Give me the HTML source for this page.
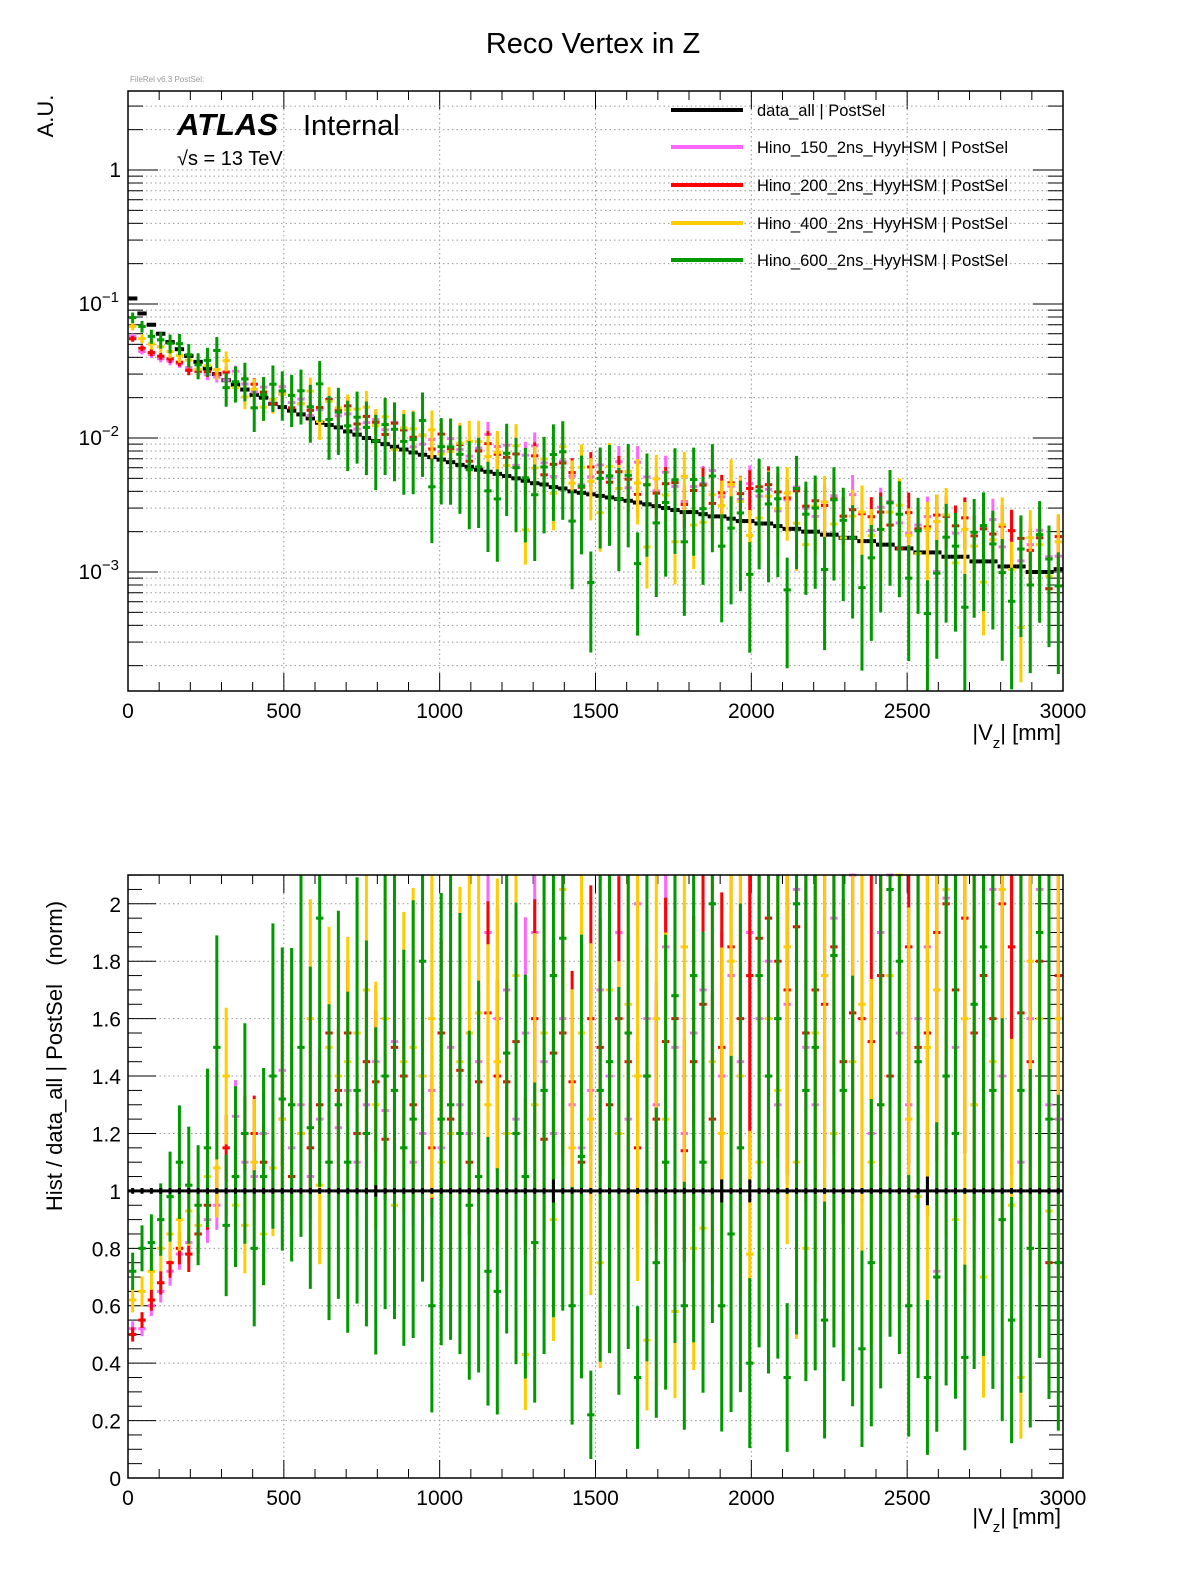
<!DOCTYPE html>
<html><head><meta charset="utf-8">
<style>
html,body{margin:0;padding:0;background:#fff;}
svg{display:block;font-family:"Liberation Sans",sans-serif;}
</style></head>
<body>
<svg id="chart" width="1196" height="1572" viewBox="0 0 1196 1572" xmlns="http://www.w3.org/2000/svg">
<rect width="1196" height="1572" fill="#fff"/>
<text x="593" y="53" font-size="29" text-anchor="middle">Reco Vertex in Z</text>
<text x="130" y="82" font-size="8" fill="#999">FileRel v6.3 PostSel:</text>
<g id="topPanel"></g>
<g id="botPanel"></g>
<text transform="translate(53,116) rotate(-90)" font-size="22" text-anchor="middle">A.U.</text>
<text x="1061" y="740" font-size="22" text-anchor="end">|V<tspan font-size="15" dy="8">z</tspan><tspan dy="-8">| [mm]</tspan></text>
<text x="1061" y="1524" font-size="22" text-anchor="end">|V<tspan font-size="15" dy="8">z</tspan><tspan dy="-8">| [mm]</tspan></text>
<text transform="translate(62,1056) rotate(-90)" font-size="22" text-anchor="middle" xml:space="preserve">Hist / data_all | PostSel   (norm)</text>
<text x="177" y="135" font-size="31" font-weight="bold" font-style="italic">ATLAS</text>
<text x="303" y="135" font-size="29">Internal</text>
<text x="177" y="165" font-size="20">√s = 13 TeV</text>
<g>
<line x1="671" y1="110" x2="743" y2="110" stroke="#000" stroke-width="4"/><text x="757" y="116" font-size="16.5">data_all | PostSel</text>
<line x1="671" y1="147" x2="743" y2="147" stroke="#ff66ff" stroke-width="4"/><text x="757" y="153" font-size="16.5">Hino_150_2ns_HyyHSM | PostSel</text>
<line x1="671" y1="185" x2="743" y2="185" stroke="#ff0000" stroke-width="4"/><text x="757" y="191" font-size="16.5">Hino_200_2ns_HyyHSM | PostSel</text>
<line x1="671" y1="223" x2="743" y2="223" stroke="#ffcc00" stroke-width="4"/><text x="757" y="229" font-size="16.5">Hino_400_2ns_HyyHSM | PostSel</text>
<line x1="671" y1="260" x2="743" y2="260" stroke="#009900" stroke-width="4"/><text x="757" y="266" font-size="16.5">Hino_600_2ns_HyyHSM | PostSel</text>
</g>
</svg>
<script>
// 100 bins of 30 mm, 0..3000
const dataVals=[0.11,0.085,0.07,0.06,0.052,0.046,0.041,0.037,0.033,0.030,
0.027,0.025,0.023,0.021,0.020,0.018,0.017,0.016,0.015,0.014,
0.013,0.0125,0.012,0.0112,0.0106,0.010,0.0095,0.009,0.0086,0.0082,
0.0078,0.0075,0.0072,0.0069,0.0066,0.0063,0.0061,0.0058,0.0056,0.0054,
0.0052,0.005,0.0048,0.0046,0.0045,0.0043,0.0042,0.0040,0.0039,0.0038,
0.0037,0.0036,0.0035,0.0034,0.0033,0.0032,0.0031,0.0030,0.0029,0.0028,
0.0028,0.0027,0.0026,0.0026,0.0025,0.0024,0.0024,0.0023,0.0023,0.0022,
0.0021,0.0021,0.0020,0.0020,0.0019,0.0019,0.0018,0.0018,0.0017,0.0017,
0.0016,0.0016,0.0015,0.0015,0.0014,0.0014,0.0014,0.0013,0.0013,0.0013,
0.0012,0.0012,0.0012,0.0011,0.0011,0.0011,0.0010,0.0010,0.0010,0.00105];
const dataErr=[1,1,1,1,1,1,1,1,1,1, 1,1,1,1,1,1,1,1,1,1, 1,1,1,1,1,1,2,1,1,1, 1,1,1,1,1,1,1,1,1,1, 1,1,1,1,1,4,1,1,1,1, 1,1,1,1,1,1,1,1,1,1, 1,1,1,4,1,1,4,1,1,1, 1,1,1,1,1,1,1,1,1,1, 1,1,1,1,1,5,1,1,1,1, 1,1,1,1,1,1,1,1,1,1];
const ratioP=[0.52,0.52,0.6,0.65,0.72,0.78,0.82,0.85,0.9,0.95, 1.0,1.26,1.1,1.05,1.2,1.0,1.42,1.15,1.3,1.05, 1.25,1.1,1.22,1.35,1.1,1.3,1.45,1.28,1.52,1.4, 1.1,1.2,1.35,1.15,1.5,1.3,1.2,1.45,1.9,1.6, 1.7,1.25,1.55,1.9,1.45,1.2,1.6,1.3,1.15,1.35, 1.7,1.4,1.9,1.25,2.0,1.6,1.3,1.85,1.5,1.2, 1.55,1.7,2.2,1.4,1.75,1.45,1.9,1.6,1.8,1.3, 1.65,2.05,1.5,1.3,1.75,1.95,1.45,2.1,1.6,1.2, 1.9,2.1,1.55,1.3,1.6,1.85,0.72,2.02,1.5,1.95, 1.3,1.75,2.05,1.4,1.85,1.1,1.6,2.05,1.3,1.25];
const ratioR=[0.5,0.55,0.62,0.68,0.75,0.8,0.78,0.85,0.95,1.0, 1.15,1.05,1.2,1.2,1.1,1.0,1.25,1.05,1.2,1.15, 1.3,1.55,1.35,1.55,1.2,1.45,1.38,1.18,1.5,1.4, 1.3,1.4,1.15,1.55,1.25,1.42,1.1,1.38,1.62,1.4, 1.38,1.52,1.05,1.6,1.18,1.48,1.55,1.38,1.1,1.6, 1.5,1.3,1.6,1.45,1.15,1.4,1.25,1.52,1.6,1.14, 1.45,1.65,1.25,1.5,1.85,1.6,1.75,1.88,1.95,1.8, 1.7,1.92,1.55,1.7,1.65,1.85,1.45,1.62,1.6,1.52, 1.75,1.4,1.0,1.85,1.5,1.55,1.9,2.0,1.7,1.95, 1.55,1.75,1.6,2.0,1.85,1.62,1.45,1.8,0.75,1.75];
const ratioY=[0.62,0.65,0.72,0.8,0.85,0.9,0.93,0.88,1.05,1.08, 1.4,0.95,0.88,1.1,0.85,1.08,1.25,1.3,1.2,1.6, 1.02,1.5,1.4,1.45,1.55,1.7,1.3,1.6,0.95,1.45, 1.5,1.4,1.6,1.1,1.2,1.45,1.55,1.62,1.3,1.45, 1.2,1.75,0.43,1.3,1.55,0.9,2.05,1.15,1.55,1.25, 0.75,1.7,1.2,1.65,1.4,0.48,1.6,1.25,0.58,1.85, 0.8,0.87,1.45,1.2,1.8,1.4,0.78,1.1,1.6,1.35, 1.85,1.1,0.8,1.55,1.75,1.2,1.0,1.45,1.65,1.1, 1.3,1.75,2.1,1.25,0.98,1.5,1.7,2.05,0.9,1.6, 1.3,0.7,1.45,2.05,0.95,0.35,1.8,1.6,0.93,1.6];
const ratioG=[0.72,0.8,0.82,0.9,0.98,1.1,1.02,0.95,1.15,1.5, 0.88,1.05,1.2,0.8,1.05,1.4,1.32,1.3,1.5,1.22, 1.95,1.1,1.3,1.1,1.35,1.2,1.0,1.4,1.35,1.15, 1.25,1.8,0.6,1.25,1.3,1.2,0.95,1.05,0.72,0.65, 1.48,1.2,1.05,0.82,1.35,1.75,1.88,0.6,1.12,0.22, 1.35,1.45,1.0,1.55,0.35,1.4,0.75,1.1,1.68,0.6, 1.75,1.1,2.0,0.6,0.85,1.15,0.4,1.75,1.4,1.6, 0.35,2.0,1.35,1.5,0.55,1.82,1.35,1.0,0.45,0.75, 1.3,2.05,1.8,0.6,1.45,0.35,0.7,1.4,1.2,0.42, 1.65,1.85,1.35,0.9,0.55,1.35,0.8,1.9,1.25,0.75];
// relative errors in percent
const errP=[5,5,6,6,7,7,8,8,9,9, 10,10,11,11,12,12,13,13,14,14, 15,15,16,16,17,17,18,18,19,19, 20,20,21,21,22,22,23,23,24,24, 25,25,26,26,27,27,28,28,29,29, 30,30,31,31,32,32,33,33,34,34, 35,35,35,36,36,36,37,37,37,38, 38,38,38,39,39,39,39,40,40,40, 40,40,41,41,41,41,42,42,42,42, 42,43,43,43,43,43,44,44,44,44];
const errR=[5,5,6,6,7,7,8,8,9,9, 10,10,11,11,12,12,13,13,14,14, 15,15,16,16,17,17,18,18,19,19, 20,20,21,21,22,22,23,23,24,24, 25,25,26,26,27,27,28,28,29,29, 30,30,31,31,32,32,33,33,34,34, 35,35,35,36,36,36,37,37,37,38, 38,38,38,39,39,39,39,40,40,40, 40,40,41,41,41,41,42,42,42,42, 42,43,43,43,43,43,44,44,44,44];
const errY=[7,8,9,10,11,12,13,14,15,16, 17,18,19,20,21,22,23,24,25,26, 27,28,29,30,31,32,33,34,35,36, 37,38,39,40,41,42,42,43,43,44, 44,45,45,46,46,47,47,48,48,49, 49,50,50,50,51,51,51,52,52,52, 53,53,53,54,54,54,55,55,55,55, 56,56,56,56,57,57,57,57,58,58, 58,58,58,59,59,59,59,59,60,60, 60,60,60,60,61,61,61,61,61,61];
const errG=[9,10,12,14,16,18,20,22,24,26, 28,30,32,34,36,38,40,42,44,46, 48,50,52,54,55,56,57,58,59,60, 61,62,62,63,63,64,64,65,65,66, 66,67,67,68,68,68,69,69,69,70, 70,70,71,71,71,71,72,72,72,72, 73,73,73,73,73,74,74,74,74,74, 74,75,75,75,75,75,75,75,76,76, 76,76,76,76,76,77,77,77,77,77, 77,77,77,78,78,78,78,78,78,78];
const xTicks=[0,500,1000,1500,2000,2500,3000];
const ratioTicks=[0,0.2,0.4,0.6,0.8,1,1.2,1.4,1.6,1.8,2];
const decadeTicks=[-3,-2,-1,0];

const NS="http://www.w3.org/2000/svg";
const X0=128,X1=1063,XMAX=3000,BW=30;
const xS=v=>X0+(X1-X0)*v/XMAX;
const TT=91,TB=691;
const yLog=v=>170-134*Math.log10(v);
const BT=875,BB=1478;
const yR=v=>BB-287.1*v;
function mk(parent,tag,attrs){const e=document.createElementNS(NS,tag);for(const k in attrs)e.setAttribute(k,attrs[k]);parent.appendChild(e);return e;}
const topG=document.getElementById('topPanel'),botG=document.getElementById('botPanel');

function frame(g,yT,yB){
  for(const t of xTicks){if(t===0||t===3000)continue;
    const l=mk(g,'line',{x1:xS(t),x2:xS(t),y1:yT,y2:yB,stroke:'#999','stroke-dasharray':'1.5,3','stroke-width':1});
    
    }
  for(let t=0;t<=3000;t+=100){const maj=t%500===0;
    const l=mk(g,'line',{x1:xS(t),x2:xS(t),y1:yB,y2:yB-(maj?18:9),stroke:'#000','stroke-width':1});
    
    
    const l2=mk(g,'line',{x1:xS(t),x2:xS(t),y1:yT,y2:yT+(maj?18:9),stroke:'#000','stroke-width':1});
    
    }
  for(const t of xTicks){
    const tx=mk(g,'text',{x:xS(t),y:yB+27,'font-size':21,'text-anchor':'middle'});tx.textContent=t;
    
    }
}
function border(g,yT,yB){
  const r=mk(g,'rect',{x:X0,y:yT,width:X1-X0,height:yB-yT,fill:'none',stroke:'#000','stroke-width':1.5});
  
  
}
frame(topG,TT,TB);
for(let d=-4;d<=0;d++){for(let m=1;m<=9;m++){const v=m*Math.pow(10,d);const y=yLog(v);if(y<TT||y>TB)continue;
  const g=mk(topG,'line',{x1:X0,x2:X1,y1:y,y2:y,stroke:'#999','stroke-dasharray':'1.5,3','stroke-width':1});
  
  
  const t=mk(topG,'line',{x1:X0,x2:X0+(m===1?30:15),y1:y,y2:y,stroke:'#000','stroke-width':1});
  
  
  const t2=mk(topG,'line',{x1:X1,x2:X1-(m===1?30:15),y1:y,y2:y,stroke:'#000','stroke-width':1});
  
  }}
for(const d of decadeTicks){const y=yLog(Math.pow(10,d));
  const tx=mk(topG,'text',{x:d===0?121:119,y:y+7,'font-size':21,'text-anchor':'end'});
  
  
  if(d===0)tx.textContent='1';else{tx.textContent='10';const s=mk(tx,'tspan',{dy:-9,'font-size':15});s.textContent='\u2212'+(-d);}}
frame(botG,BT,BB);
for(let i=0;i<=42;i++){const v=i*0.05;const y=yR(v);const maj=i%4===0;
  if(maj&&i>0){const g=mk(botG,'line',{x1:X0,x2:X1,y1:y,y2:y,stroke:'#999','stroke-dasharray':'1.5,3','stroke-width':1});
    
    }
  const t=mk(botG,'line',{x1:X0,x2:X0+(maj?28:14),y1:y,y2:y,stroke:'#000','stroke-width':1});
  
  
  const t2=mk(botG,'line',{x1:X1,x2:X1-(maj?28:14),y1:y,y2:y,stroke:'#000','stroke-width':1});
  
  }
for(const v of ratioTicks){const tx=mk(botG,'text',{x:121,y:yR(v)+8,'font-size':21,'text-anchor':'end'});tx.textContent=String(v);
  
  }

function clip(y,a,b){return Math.max(a,Math.min(b,y));}
function drawTop(ratio,err,color,name){
  const g=mk(topG,'g',{});
  
  
  for(let i=0;i<ratio.length;i++){const v=ratio[i]*dataVals[i];const e=err[i]/100;const xc=xS(i*BW+BW/2);
    const y=yLog(v);const yh=yLog(v*(1+e));const yl=e>=1?TB:yLog(v*(1-e));
    if(y>TB)continue;
    const vb=mk(g,'line',{x1:xc,x2:xc,y1:clip(yh,TT,TB),y2:clip(yl,TT,TB),stroke:color,'stroke-width':3});
    
    
    if(y>=TT){const hb=mk(g,'line',{x1:xS(i*BW)+1,x2:xS(i*BW+BW)-1,y1:y,y2:y,stroke:color,'stroke-width':3});
    
    }}
}
function drawBot(ratio,err,color,name){
  const g=mk(botG,'g',{});
  
  
  for(let i=0;i<ratio.length;i++){const r=ratio[i];const e=err[i]/100*r;const xc=xS(i*BW+BW/2);
    const y=yR(r);
    const vb=mk(g,'line',{x1:xc,x2:xc,y1:clip(yR(r+e),BT,BB),y2:clip(yR(r-e),BT,BB),stroke:color,'stroke-width':3});
    
    
    if(y>=BT&&y<=BB){const hb=mk(g,'line',{x1:xS(i*BW)+1,x2:xS(i*BW+BW)-1,y1:y,y2:y,stroke:color,'stroke-width':3});
    
    }}
}
{const g=mk(topG,'g',{});
 
 
 for(let i=0;i<dataVals.length;i++){const y=yLog(dataVals[i]);
  const hb=mk(g,'line',{x1:xS(i*BW),x2:xS(i*BW+BW),y1:y,y2:y,stroke:'#000','stroke-width':4});
  
  }}
drawTop(ratioP,errP,'#ff66ff','hino150-series');
drawTop(ratioR,errR,'#ff0000','hino200-series');
drawTop(ratioY,errY,'#ffcc00','hino400-series');
drawTop(ratioG,errG,'#009900','hino600-series');
drawBot(ratioP,errP,'#ff66ff','hino150-ratio');
drawBot(ratioR,errR,'#ff0000','hino200-ratio');
drawBot(ratioY,errY,'#ffcc00','hino400-ratio');
drawBot(ratioG,errG,'#009900','hino600-ratio');
{const g=mk(botG,'g',{});
 
 
 for(let i=0;i<dataVals.length;i++){const xc=xS(i*BW+BW/2);const e=dataErr[i]/100;
  const vb=mk(g,'line',{x1:xc,x2:xc,y1:yR(1+e),y2:yR(1-e),stroke:'#000','stroke-width':3});
  
  
  const hb=mk(g,'line',{x1:xS(i*BW),x2:xS(i*BW+BW),y1:yR(1),y2:yR(1),stroke:'#000','stroke-width':3});
  
  }}
border(topG,TT,TB);
border(botG,BT,BB);
</script>
</body></html>
